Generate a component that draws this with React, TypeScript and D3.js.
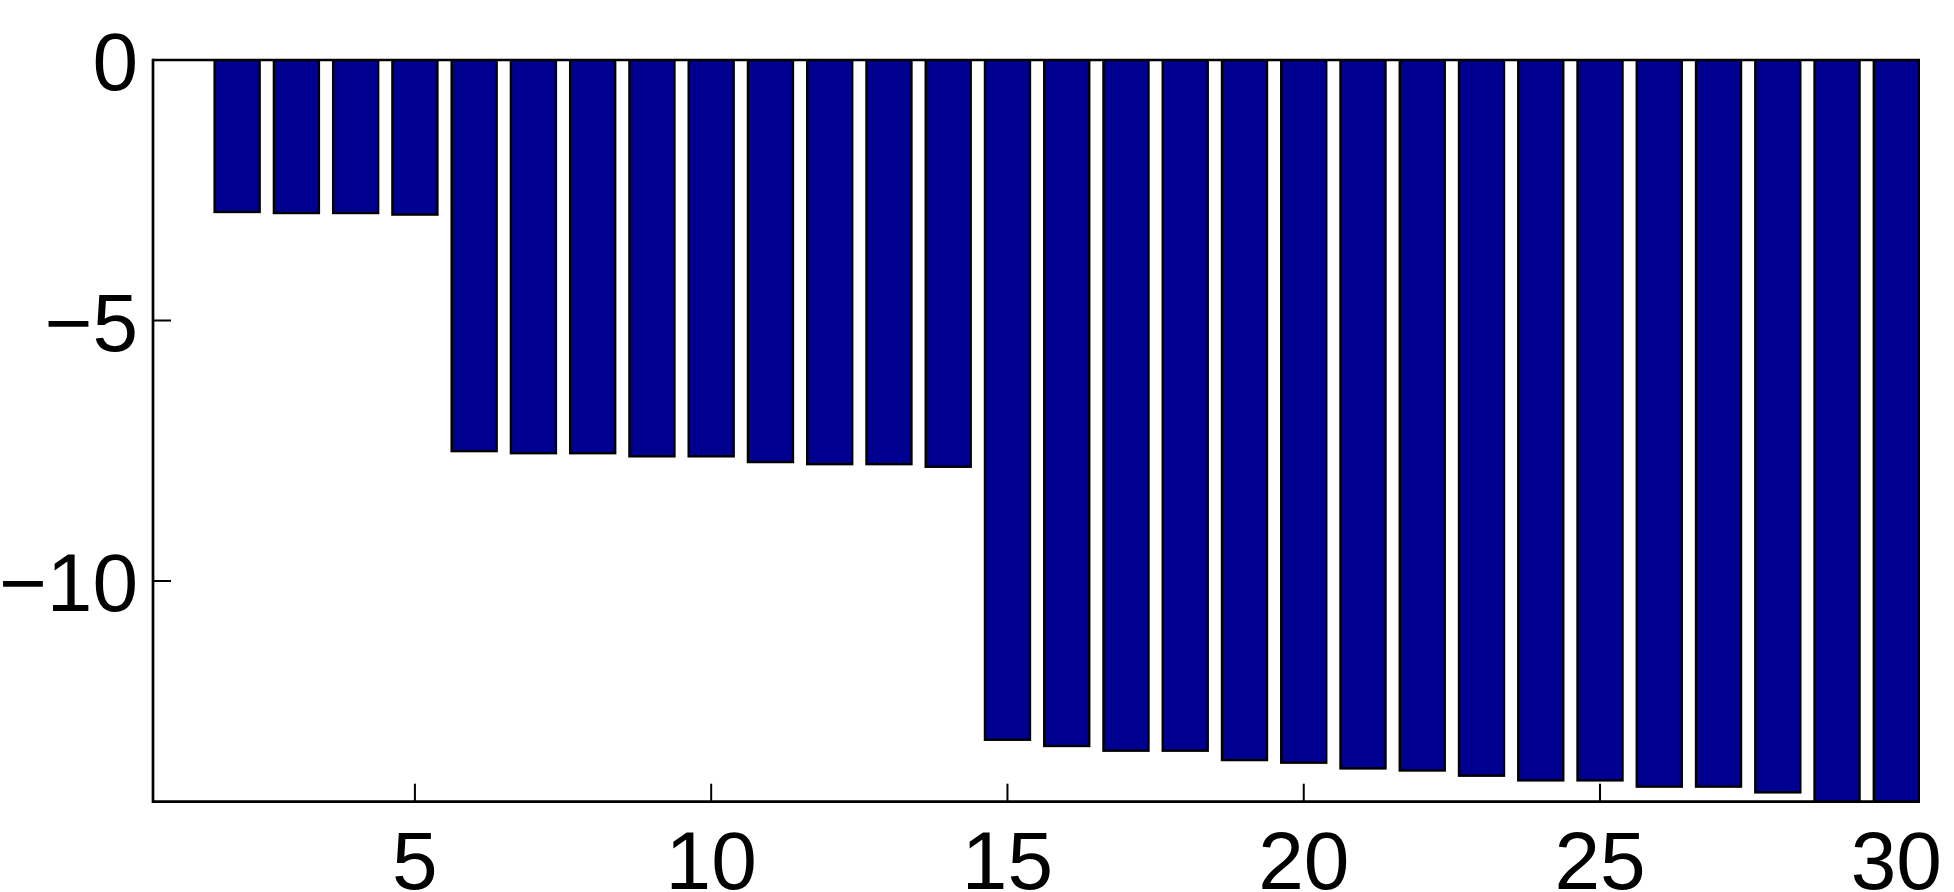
import React from "react";
import * as d3 from "d3";

const categories: number[] = Array.from({ length: 30 }, (_, i) => i + 1);
const values: number[] = [
  0, -2.94, -2.96, -2.96, -2.99,
  -7.53, -7.57, -7.57, -7.63, -7.63, -7.74, -7.78, -7.78, -7.83,
  -13.07, -13.19, -13.28, -13.28, -13.46, -13.51, -13.62, -13.66, -13.76,
  -13.85, -13.85, -13.97, -13.97, -14.08, -14.5, -14.6,
];
const xTicks: number[] = [5, 10, 15, 20, 25, 30];
const yTicks: number[] = [0, -5, -10];

const W = 1954;
const H = 892;
const left = 153;
const right = 1920;
const top = 60;
const bottom = 801.7;

export default function App() {
  const x = d3.scaleLinear().domain([0.58, 30.4]).range([left, right]);
  const y = d3.scaleLinear().domain([-14.236, 0]).range([bottom, top]);
  const barW = 0.8;
  const font = "'Liberation Sans', Arial, Helvetica, sans-serif";
  return (
    <svg
      width={W}
      height={H}
      style={{ position: "absolute", left: 0, top: 0, background: "#fff" }}
    >
      <defs>
        <clipPath id="plot">
          <rect x={left} y={top} width={right - left + 1.5} height={bottom - top} />
        </clipPath>
      </defs>
      {/* x ticks (drawn beneath bars) */}
      {xTicks.map((t) => (
        <line key={"xt" + t} x1={x(t)} x2={x(t)} y1={bottom} y2={bottom - 18} stroke="#000" strokeWidth={2} />
      ))}
      {yTicks.map((t) => (
        <line key={"yt" + t} x1={left} x2={left + 18} y1={y(t)} y2={y(t)} stroke="#000" strokeWidth={2} />
      ))}
      <g clipPath="url(#plot)">
        {categories.map((c, i) => {
          const v = values[i];
          if (v === 0) return null;
          const x0 = x(c - barW / 2);
          const x1 = x(c + barW / 2);
          const y0 = y(0);
          const y1 = y(v);
          return (
            <rect
              key={c}
              x={x0 + 1.2}
              y={y0}
              width={x1 - x0 - 2.4}
              height={y1 - y0 - 1.2}
              fill="#000090"
              stroke="#000"
              strokeWidth={2.4}
            />
          );
        })}
      </g>
      {/* axes lines */}
      <line x1={left} x2={right} y1={top} y2={top} stroke="#000" strokeWidth={2.7} />
      <line x1={left} x2={right} y1={bottom} y2={bottom} stroke="#000" strokeWidth={2.7} />
      <line x1={left} x2={left} y1={top - 1.35} y2={bottom + 1.35} stroke="#000" strokeWidth={2.7} />
      {xTicks.map((t) => (
        <text
          key={"xl" + t}
          x={x(t)}
          y={889}
          textAnchor="middle"
          fontFamily={font}
          fontSize={82}
          fill="#000"
        >
          {t}
        </text>
      ))}
      {yTicks.map((t) => (
        <text
          key={"yl" + t}
          x={138}
          y={y(t) + 30}
          textAnchor="end"
          fontFamily={font}
          fontSize={82}
          fill="#000"
        >
          {t < 0 ? "\u2212" + Math.abs(t) : String(t)}
        </text>
      ))}
    </svg>
  );
}
